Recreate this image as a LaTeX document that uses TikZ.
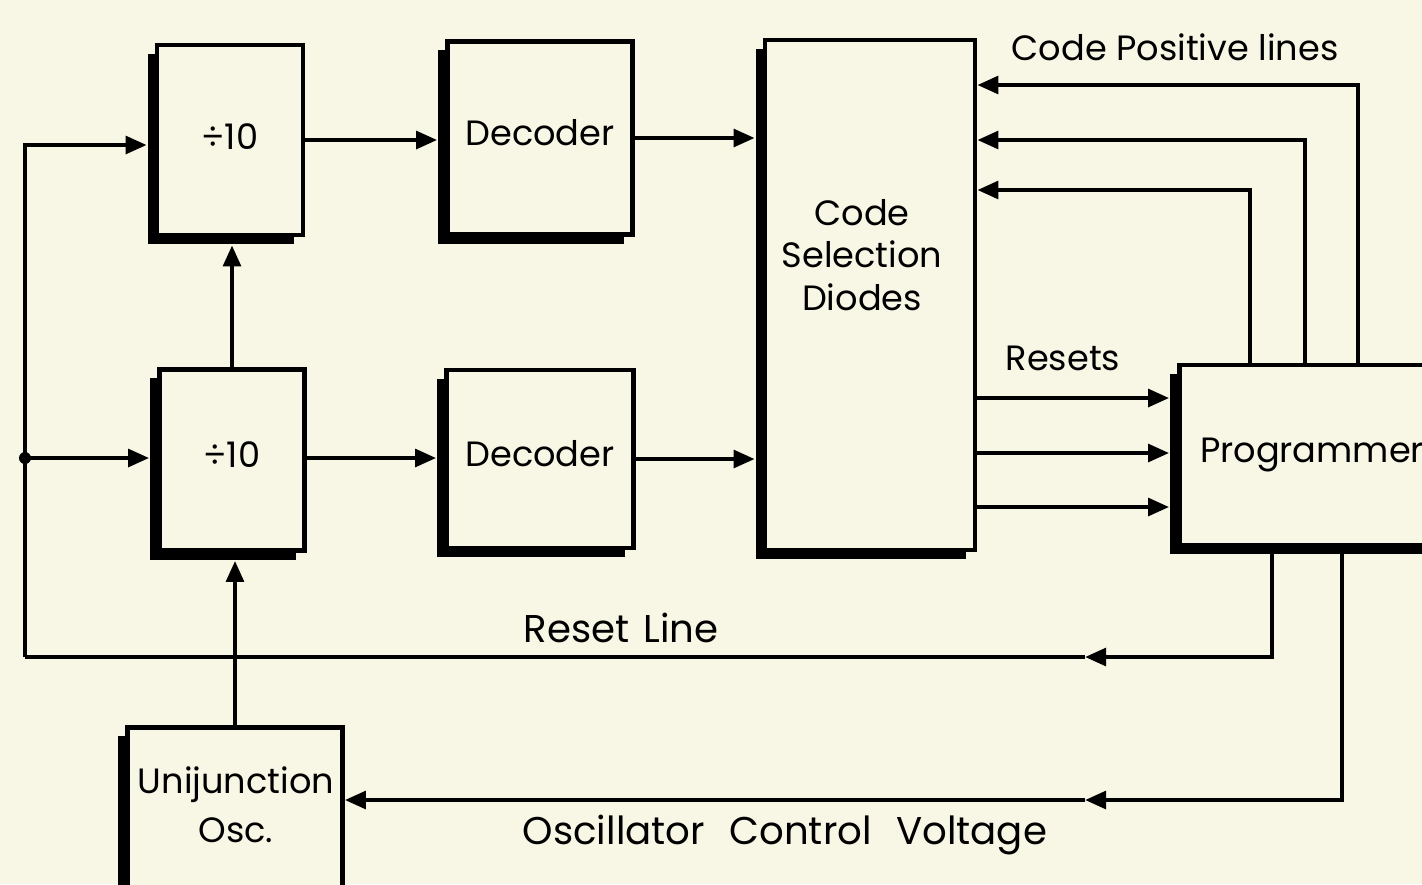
\documentclass[tikz,border=0pt]{standalone}
\usepackage{fontspec}
\setmainfont{Poppins}
\usetikzlibrary{arrows.meta,shadows}
\definecolor{paper}{RGB}{248,246,228}
\begin{document}
\begin{tikzpicture}[x=0.01cm,y=-0.01cm,
  blk/.style={draw, line width=1.3pt, fill=paper, inner sep=0pt, align=center,
    drop shadow={shadow xshift=-0.09cm, shadow yshift=-0.09cm, fill=black, opacity=1},
    font=\fontsize{10}{12}\selectfont},
  txt/.style={inner sep=0pt, align=center, font=\fontsize{10}{12}\selectfont},
  wire/.style={line width=1.2pt},
  arr/.style={wire, -{Triangle[length=6pt,width=5pt]}},
  toshadow/.style={shorten >=0.08cm},
  lbl/.style={font=\fontsize{10}{12}\selectfont, inner sep=0pt},
  biglbl/.style={font=\fontsize{11}{13}\selectfont, inner sep=0pt}]
\useasboundingbox (0,0) rectangle (1422,884);
\clip (0,0) rectangle (1422,884);
\fill[paper] (0,0) rectangle (1422,884);

% blocks
\node[blk, minimum width=1.46cm, minimum height=1.90cm] (d1) at (230,140) {\raisebox{2pt}{÷10}};
\node[blk, minimum width=1.45cm, minimum height=1.81cm] (d2) at (232,460) {\raisebox{3pt}{÷10}};
\node[blk, minimum width=1.85cm, minimum height=1.93cm] (dec1) at (540,138) {\raisebox{3pt}{Decoder}};
\node[blk, minimum width=1.87cm, minimum height=1.78cm] (dec2) at (540,459) {\raisebox{3pt}{Decoder}};
\node[blk, minimum width=2.10cm, minimum height=5.10cm] (csd) at (870,295) {};
\node[txt] (csdt) at (862,255) {Code\\Selection\\Diodes};
\node[blk, minimum width=2.65cm, minimum height=1.80cm] (prog) at (1312,455) {Programmer};
\node[blk, minimum width=2.15cm, minimum height=1.65cm] (osc) at (235,810) {};
\node[txt] (osct) at (236,805) {Unijunction\\[2pt]Osc.};

% coordinates
\coordinate (busT) at (25,145);
\coordinate (busM) at (25,458);
\coordinate (rll) at (25,657);
\coordinate (rlm) at (1085,657);
\coordinate (rlr) at (1272,657);
\coordinate (ocr) at (1342,800);
\coordinate (ocm) at (1085,800);
\coordinate (cp1) at (1358,85);
\coordinate (cp2) at (1305,140);
\coordinate (cp3) at (1250,190);
\coordinate (r1) at (975,398);
\coordinate (r2) at (975,453);
\coordinate (r3) at (975,507);

% left bus and counters
\draw[arr,toshadow] (busM) -- (busM -| d2.west);
\draw[arr,toshadow] (rll) -- (busT) -- (busT -| d1.west);
\fill (busM) circle (6);
\draw[arr,toshadow] (d2.north) -- (d2.north |- d1.south);
\draw[arr,toshadow] (osc.north) -- (osc.north |- d2.south);

% counters to decoders to diodes
\draw[arr,toshadow] (d1.east) -- (d1.east -| dec1.west);
\draw[arr,toshadow] (d2.east |- busM) -- (busM -| dec2.west);
\draw[arr,toshadow] (dec1.east) -- (dec1.east -| csd.west);
\draw[arr,toshadow] (dec2.east) -- (dec2.east -| csd.west);

% code positive lines
\draw[arr] (prog.north -| cp1) -- (cp1) -- (cp1 -| csd.east);
\draw[arr] (prog.north -| cp2) -- (cp2) -- (cp2 -| csd.east);
\draw[arr] (prog.north -| cp3) -- (cp3) -- (cp3 -| csd.east);

% resets
\draw[arr,toshadow] (r1 -| csd.east) -- (r1 -| prog.west);
\draw[arr,toshadow] (r2 -| csd.east) -- (r2 -| prog.west);
\draw[arr,toshadow] (r3 -| csd.east) -- (r3 -| prog.west);

% reset line
\draw[arr] (prog.south -| rlr) -- (rlr) -- (rlm);
\draw[wire] (rlm) -- (rll);

% oscillator control voltage
\draw[arr] (prog.south -| ocr) -- (ocr) -- (ocm);
\draw[arr] (ocm) -- (ocm -| osc.east);

% labels
\node[lbl] (lcp) at (1175,47) {Code Positive lines};
\node[lbl] (lrs) at (1063,358) {Resets};
\node[biglbl] (lrl) at (621,628) {Reset\hspace{4pt}Line};
\node[biglbl] (lov) at (785,835) {Oscillator\hspace{7pt}Control\hspace{7pt}Voltage};
\end{tikzpicture}
\end{document}
